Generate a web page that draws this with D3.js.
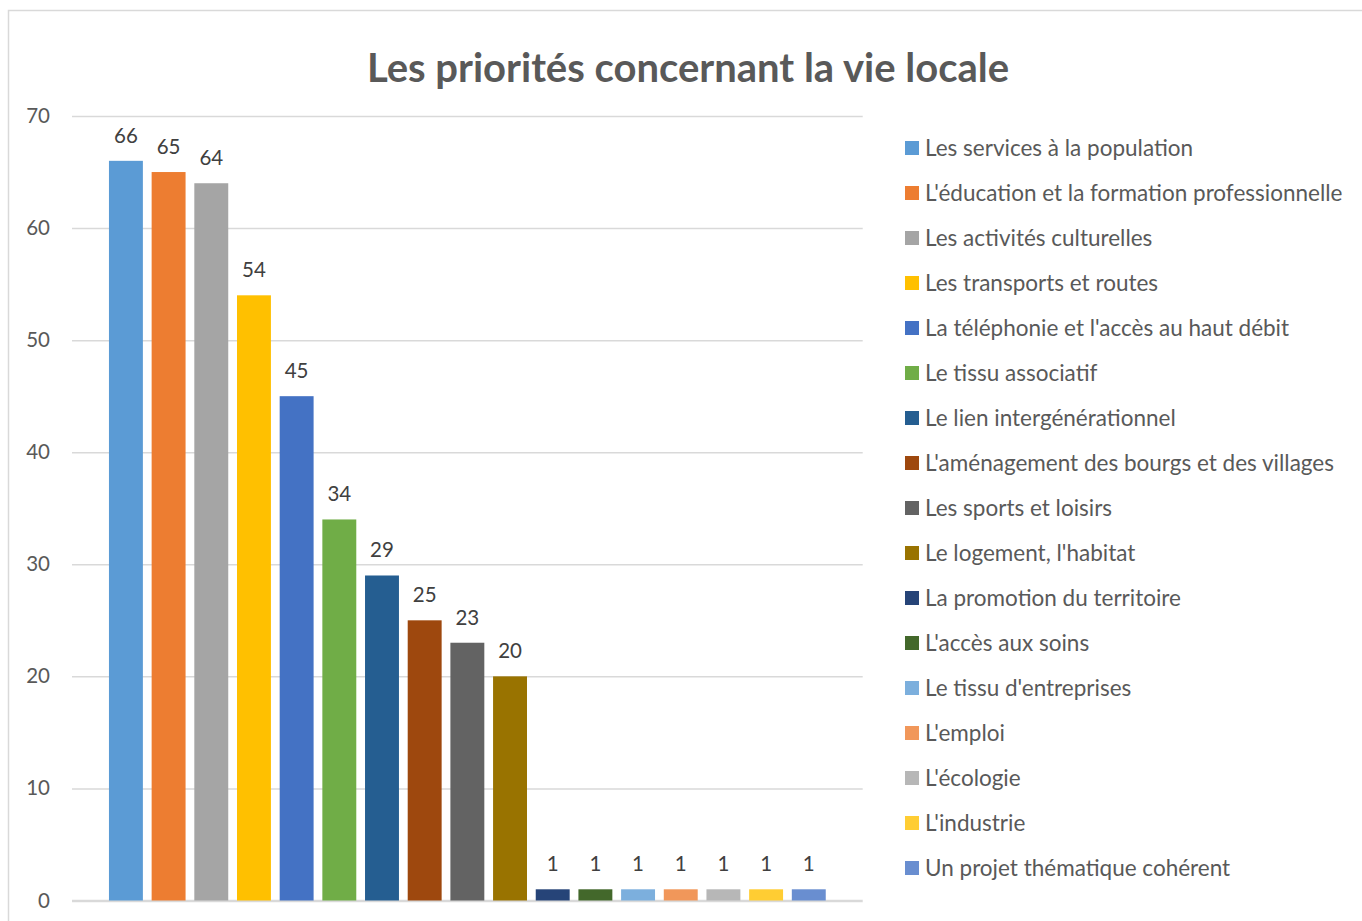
<!DOCTYPE html>
<html><head><meta charset="utf-8">
<script src="https://cdn.jsdelivr.net/npm/d3@7"></script>
<style>body{margin:0;background:#fff}svg{display:block}</style>
</head><body>
<svg id="c" width="1362" height="921"></svg>
<script>
const categories = ["Les services à la population","L'éducation et la formation professionnelle","Les activités culturelles","Les transports et routes","La téléphonie et l'accès au haut débit","Le tissu associatif","Le lien intergénérationnel","L'aménagement des bourgs et des villages","Les sports et loisirs","Le logement, l'habitat","La promotion du territoire","L'accès aux soins","Le tissu d'entreprises","L'emploi","L'écologie","L'industrie","Un projet thématique cohérent"];
const values = [66,65,64,54,45,34,29,25,23,20,1,1,1,1,1,1,1];
const colors = ["#5B9BD5","#ED7D31","#A5A5A5","#FFC000","#4472C4","#70AD47","#255E91","#9E480E","#636363","#997300","#264478","#43682B","#7CAFDD","#F1975A","#B7B7B7","#FFCD33","#698ED0"];
const yTicks = [0,10,20,30,40,50,60,70];
const title = "Les priorités concernant la vie locale";

const svg = d3.select("#c");
const font = "Lato, 'Open Sans', sans-serif";
svg.append("rect").attr("x",8.5).attr("y",10.5).attr("width",1400).attr("height",1000)
  .attr("fill","#fff").attr("stroke","#D9D9D9").attr("stroke-width",1.5);

svg.append("text").attr("x",688).attr("y",82).attr("text-anchor","middle")
  .attr("font-family",font).attr("font-weight","bold").attr("font-size",40)
  .attr("fill","#595959").text(title);

const plotL = 72, plotR = 862.7, plotT = 116, plotB = 900.5;
const y = d3.scaleLinear().domain([0,70]).range([plotB, plotT]);
const x = d3.scaleBand().domain(categories).range([plotL, plotR]).paddingInner(0.205).paddingOuter(0.866);

const yAxis = d3.axisLeft(y).tickValues(yTicks).tickSize(-(plotR-plotL)).tickPadding(22);
const gy = svg.append("g").attr("transform",`translate(${plotL},0)`).call(yAxis);
gy.select(".domain").remove();
gy.selectAll(".tick line").attr("stroke","#D9D9D9").attr("stroke-width",1.5);
gy.selectAll(".tick text").attr("font-family",font).attr("font-size",20.5).attr("fill","#595959");
gy.selectAll(".tick").filter(d=>d===0).select("line").attr("stroke-width",2.5);

svg.append("g").selectAll("rect").data(categories).join("rect")
  .attr("x",d=>x(d)).attr("width",x.bandwidth())
  .attr("y",(d,i)=>y(values[i])).attr("height",(d,i)=>y(0)-y(values[i]))
  .attr("fill",(d,i)=>colors[i]);

svg.append("g").selectAll("text").data(categories).join("text")
  .attr("x",d=>x(d)+x.bandwidth()/2).attr("y",(d,i)=>y(values[i])-18)
  .attr("text-anchor","middle").attr("font-family",font).attr("font-size",20.5)
  .attr("fill","#404040").text((d,i)=>values[i]);

const leg = svg.append("g").selectAll("g").data(categories).join("g")
  .attr("transform",(d,i)=>`translate(905,${148+45*i})`);
leg.append("rect").attr("x",0).attr("y",-7).attr("width",14).attr("height",14).attr("fill",(d,i)=>colors[i]);
leg.append("text").attr("x",20).attr("y",8).attr("font-family",font).attr("font-size",22.5)
  .attr("fill","#595959").text(d=>d);
</script>
</body></html>
